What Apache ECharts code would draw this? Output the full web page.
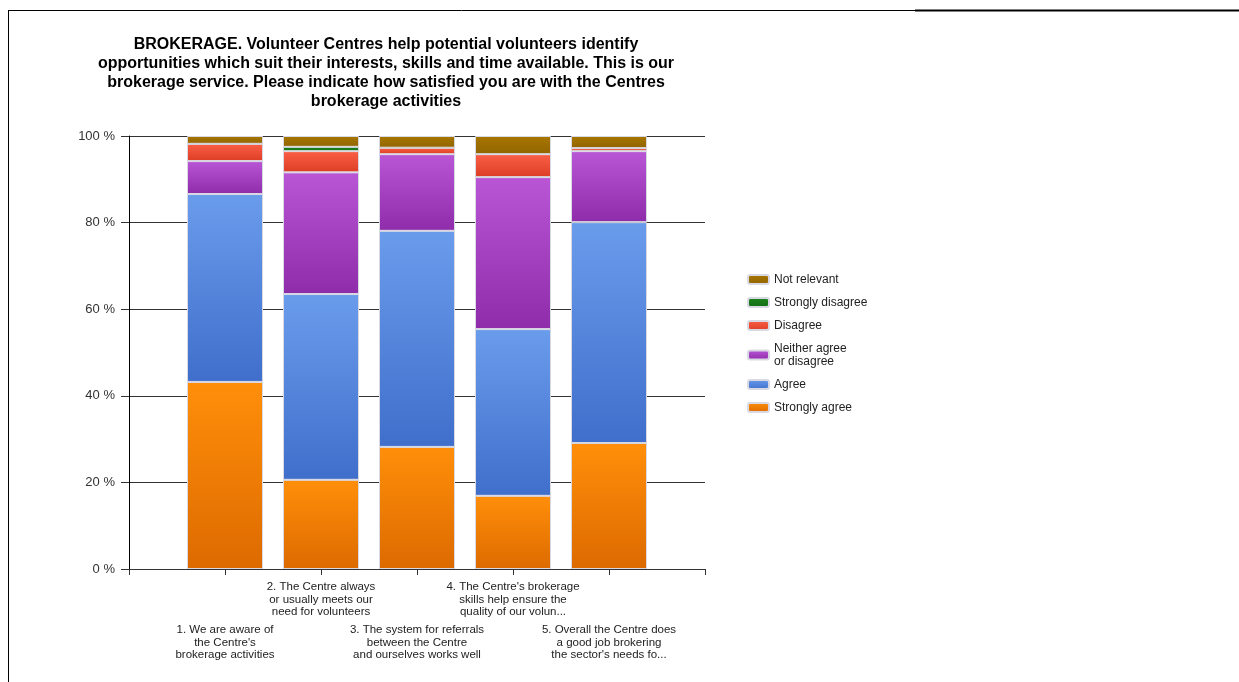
<!DOCTYPE html>
<html>
<head>
<meta charset="utf-8">
<script src="https://cdn.jsdelivr.net/npm/echarts@6/dist/echarts.min.js"></script>
<style>
  html, body { margin: 0; padding: 0; background: #fff; }
  #main { width: 1239px; height: 682px; }
</style>
</head>
<body>
<div id="main"></div>
<script>
// categories (empty slots at both ends keep the bars where the original puts them)
var categories = [
  '',
  '1. We are aware of\nthe Centre\'s\nbrokerage activities',
  '2. The Centre always\nor usually meets our\nneed for volunteers',
  '3. The system for referrals\nbetween the Centre\nand ourselves works well',
  '4. The Centre\'s brokerage\nskills help ensure the\nquality of our volun...',
  '5. Overall the Centre does\na good job brokering\nthe sector\'s needs fo...',
  ''
];

// percentages per answer, one value per statement
var stronglyAgree    = ['-', 43.2, 20.6, 28.2, 16.9, 29.1, '-'];
var agree            = ['-', 43.4, 42.9, 49.9, 38.5, 51.0, '-'];
var neither          = ['-', 7.6, 28.1, 17.7, 35.1, 16.4, '-'];
var disagree         = ['-', 4.0, 4.9, 1.5, 5.3, 0.7, '-'];
var stronglyDisagree = ['-', 0, 1.0, 0, 0, 0, '-'];
var notRelevant      = ['-', 1.8, 2.5, 2.7, 4.2, 2.8, '-'];

var yTicks = [0, 20, 40, 60, 80, 100];

function grad(top, bottom) {
  return {
    type: 'linear', x: 0, y: 0, x2: 0, y2: 1,
    colorStops: [{ offset: 0, color: top }, { offset: 1, color: bottom }]
  };
}

function bar(name, data, top, bottom) {
  return {
    name: name,
    type: 'bar',
    stack: 'all',
    data: data,
    barWidth: 76,
    itemStyle: { color: grad(top, bottom), borderColor: '#d9d9e3', borderWidth: 1 },
    emphasis: { disabled: true }
  };
}

var myChart = echarts.init(document.getElementById('main'));
var option = {
  animation: false,
  title: {
    text: 'BROKERAGE. Volunteer Centres help potential volunteers identify\nopportunities which suit their interests, skills and time available. This is our\nbrokerage service. Please indicate how satisfied you are with the Centres\nbrokerage activities',
    left: 381,
    top: 30,
    textAlign: 'center',
    textStyle: {
      fontFamily: 'Liberation Sans',
      fontSize: 16,
      fontWeight: 'bold',
      color: '#000',
      lineHeight: 19
    }
  },
  legend: {
    orient: 'vertical',
    left: 742,
    top: 268,
    itemWidth: 21,
    itemHeight: 9,
    itemGap: 10,
    data: ['Not relevant', 'Strongly disagree', 'Disagree', 'Neither agree or disagree', 'Agree', 'Strongly agree'],
    formatter: function (n) {
      return n === 'Neither agree or disagree' ? 'Neither agree\nor disagree' : n;
    },
    textStyle: { fontFamily: 'Liberation Sans', fontSize: 12, color: '#222', lineHeight: 13 }
  },
  grid: { left: 129, right: 534, top: 136, bottom: 113 },
  xAxis: [{
    type: 'category',
    data: categories,
    boundaryGap: false,
    axisLine: { lineStyle: { color: '#333' } },
    axisTick: { length: 6, lineStyle: { color: '#333' } },
    axisLabel: {
      interval: 0,
      margin: 12,
      fontFamily: 'Liberation Sans',
      fontSize: 11.5,
      color: '#222',
      lineHeight: 12.5,
      formatter: function (v, i) { return i % 2 === 0 ? v : ''; }
    },
    splitLine: { show: false }
  }, {
    type: 'category',
    data: categories,
    boundaryGap: false,
    position: 'bottom',
    axisLine: { show: false },
    axisTick: { show: false },
    axisLabel: {
      interval: 0,
      margin: 55,
      fontFamily: 'Liberation Sans',
      fontSize: 11.5,
      color: '#222',
      lineHeight: 12.5,
      formatter: function (v, i) { return i % 2 === 1 ? v : ''; }
    },
    splitLine: { show: false }
  }],
  yAxis: {
    type: 'value',
    min: yTicks[0],
    max: yTicks[yTicks.length - 1],
    interval: 20,
    axisLine: { show: true, lineStyle: { color: '#000' } },
    axisTick: { show: true, length: 8, lineStyle: { color: '#333' } },
    axisLabel: {
      margin: 14,
      fontFamily: 'Liberation Sans',
      fontSize: 13,
      color: '#333',
      formatter: '{value} %'
    },
    splitLine: { lineStyle: { color: '#333', width: 1 } }
  },
  series: [
    bar('Strongly agree', stronglyAgree, '#ff8f0a', '#dd6a00'),
    bar('Agree', agree, '#6a9cec', '#3f6fcb'),
    bar('Neither agree or disagree', neither, '#b856d6', '#8e2ca9'),
    bar('Disagree', disagree, '#fa5f46', '#dc3e24'),
    bar('Strongly disagree', stronglyDisagree, '#1d851d', '#136d13'),
    bar('Not relevant', notRelevant, '#a87600', '#916500')
  ],
  graphic: [
    { type: 'line', shape: { x1: 8, y1: 10.5, x2: 915, y2: 10.5 }, style: { stroke: '#000', lineWidth: 1 } },
    { type: 'line', shape: { x1: 915, y1: 10.5, x2: 1239, y2: 10.5 }, style: { stroke: '#000', lineWidth: 2 } },
    { type: 'line', shape: { x1: 8.5, y1: 10, x2: 8.5, y2: 682 }, style: { stroke: '#000', lineWidth: 1 } }
  ]
};
myChart.setOption(option);
</script>
</body>
</html>
